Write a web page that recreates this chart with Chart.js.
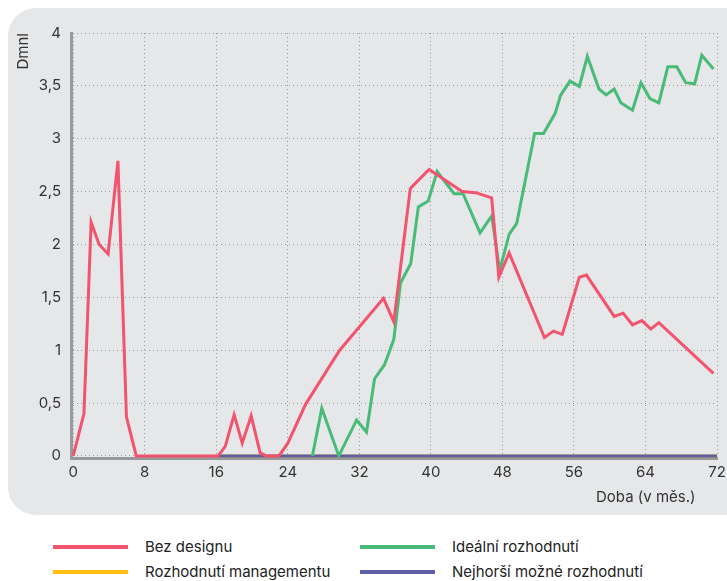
<!DOCTYPE html>
<html>
<head>
<meta charset="utf-8">
<script src="https://cdn.jsdelivr.net/npm/chart.js@4"></script>
<style>
body { margin:0; width:727px; height:581px; overflow:hidden; background:#fff; font-family:Inter, sans-serif; }
#panel { position:absolute; left:8px; top:8px; width:745px; height:507px; background:#e6e7e9; border-radius:28px; }
#wrap { position:absolute; left:0; top:0; width:727px; height:515px; }
#xtitle { position:absolute; left:596px; top:487px; font-size:15px; color:#333; }
#legend { position:absolute; left:53px; top:537px; display:grid; grid-template-columns:307px 300px; row-gap:6px; font-size:15px; color:#222; }
.item { display:flex; align-items:center; height:19px; }
.item span { display:inline-block; width:75px; height:4px; margin-right:17px; }
</style>
</head>
<body>
<div id="panel"></div>
<div id="wrap"><canvas id="myChart" width="727" height="515"></canvas></div>
<div id="xtitle">Doba (v měs.)</div>
<div id="legend"></div>
<script>
// data (x = months, y = Dmnl)
const redX = [0, 1.2, 2, 2.9, 3.9, 5, 5.95, 7.05, 16.2, 17, 18, 18.9, 19.9, 20.9, 21.6, 23, 24, 26, 29.8, 34.7, 35.85, 37.7, 39.8, 43.5, 45, 46.8, 47.6, 48.75, 52.7, 53.7, 54.7, 56.6, 57.4, 60.5, 61.5, 62.55, 63.6, 64.6, 65.5, 71.6];
const redY = [0, 0.4, 2.21, 2.0, 1.91, 2.79, 0.37, 0, 0, 0.09, 0.39, 0.12, 0.38, 0.03, 0, 0, 0.12, 0.49, 1.0, 1.49, 1.27, 2.53, 2.71, 2.5, 2.49, 2.44, 1.69, 1.92, 1.12, 1.18, 1.15, 1.69, 1.71, 1.32, 1.35, 1.24, 1.28, 1.2, 1.26, 0.78];

const greenX = [26.75, 27.8, 29.7, 31.7, 32.8, 33.7, 34.8, 35.85, 36.6, 37.75, 38.6, 39.7, 40.7, 42.6, 43.6, 45.5, 46.8, 47.7, 48.75, 49.6, 51.6, 52.6, 53.9, 54.5, 55.55, 56.6, 57.5, 58.8, 59.6, 60.5, 61.25, 62.55, 63.5, 64.5, 65.5, 66.5, 67.5, 68.5, 69.5, 70.3, 71.6];
const greenY = [0, 0.45, 0, 0.34, 0.225, 0.73, 0.86, 1.1, 1.635, 1.82, 2.355, 2.41, 2.69, 2.48, 2.48, 2.11, 2.27, 1.755, 2.095, 2.2, 3.05, 3.05, 3.24, 3.41, 3.545, 3.495, 3.78, 3.47, 3.415, 3.47, 3.34, 3.27, 3.53, 3.38, 3.34, 3.68, 3.68, 3.53, 3.52, 3.79, 3.66];

const yellowX = [16.2, 72];
const yellowY = [0, 0];

const blueX = [16.2, 72];
const blueY = [0, 0];

const xTicks = [0, 8, 16, 24, 32, 40, 48, 56, 64, 72];
const yTicks = [0, 0.5, 1, 1.5, 2, 2.5, 3, 3.5, 4];

const names = ["Bez designu", "Ideální rozhodnutí", "Rozhodnutí managementu", "Nejhorší možné rozhodnutí"];
const colors = ["#f2536f", "#48bb78", "#fdc010", "#5c5fa8"];
const drawOrder = [0, 1, 3, 2]; // blue lies over yellow

function pts(xs, ys) {
  return xs.map((x, i) => ({x: x, y: ys[i]}));
}

const series = [pts(redX, redY), pts(greenX, greenY), pts(yellowX, yellowY), pts(blueX, blueY)];

const ctx = document.getElementById("myChart");

let chart = new Chart(ctx, {
  type: "line",
  data: {
    datasets: series.map((d, i) => ({
      label: names[i],
      data: d,
      order: drawOrder[i],
      borderColor: colors[i],
      borderWidth: 3,
      pointRadius: 0,
      tension: 0,
      fill: false
    }))
  },
  options: {
    responsive: false,
    animation: false,
    layout: { padding: { top: 33, left: 11, right: 10, bottom: 0 } },
    plugins: { legend: { display: false }, tooltip: { enabled: false } },
    scales: {
      x: {
        type: "linear",
        min: -0.25,
        max: 72,
        afterBuildTicks: s => { s.ticks = xTicks.map(v => ({value: v})); },
        afterFit: s => { s.height = 57; s.paddingRight = 0; s.paddingLeft = 0; },
        ticks: { color: "#333", font: { family: "Inter", size: 15 }, padding: 5, maxRotation: 0 },
        grid: { color: "#9a9a9a", lineWidth: 1, drawTicks: false },
        border: { color: "#98999b", width: 3, dash: [1, 3] }
      },
      y: {
        min: -0.02,
        max: 4,
        afterBuildTicks: s => { s.ticks = yTicks.map(v => ({value: v})); },
        afterFit: s => { s.width = 60; },
        ticks: { color: "#333", font: { family: "Inter", size: 15 }, padding: 10,
          callback: v => String(v).replace(".", ",") },
        grid: { color: "#9a9a9a", lineWidth: 1, drawTicks: false },
        border: { color: "#98999b", width: 3, dash: [1, 3] },
        title: { display: true, text: "Dmnl", align: "end", color: "#333",
          font: { family: "Inter", size: 15 }, padding: { top: 3, bottom: 4 } }
      }
    }
  }
});

// legend in two columns
document.getElementById("legend").innerHTML = [0, 1, 2, 3].map(i =>
  '<div class="item"><span style="background:' + colors[i] + '"></span>' + names[i] + '</div>'
).join("");
</script>
</body>
</html>
